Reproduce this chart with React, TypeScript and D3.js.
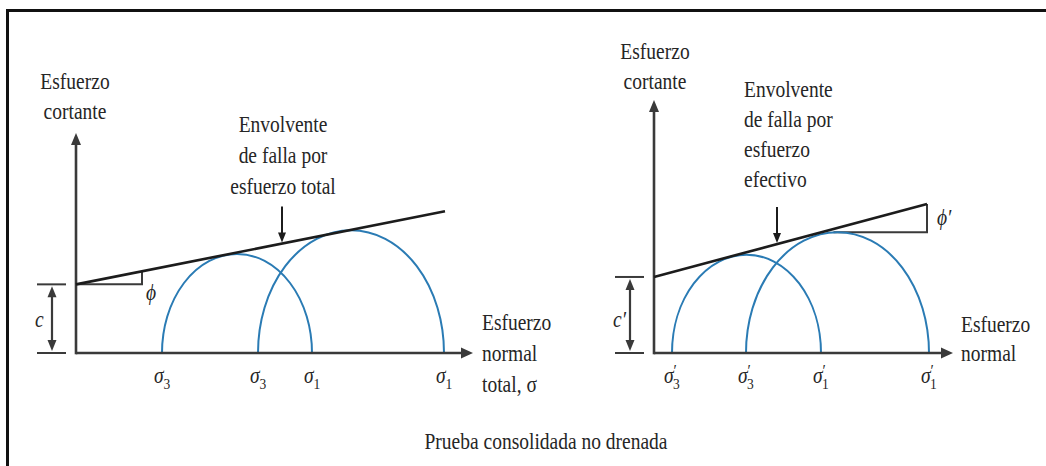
import React from "react";
import * as d3 from "d3";

// Mohr circles at failure, total stress (left) and effective stress (right)
const TOTAL_SIGMA3 = [86, 182];
const TOTAL_SIGMA1 = [236, 368];
const TOTAL_COHESION = 52;
const TOTAL_TAN_PHI = 0.15;
const TOTAL_ENVELOPE_END = 369;

const EFF_SIGMA3 = [18, 92];
const EFF_SIGMA1 = [167, 275];
const EFF_COHESION = 57.6;
const EFF_TAN_PHI = 0.2026;
const EFF_ENVELOPE_END = 273;

const TOTAL_ENVELOPE_LABEL = ["Envolvente", "de falla por", "esfuerzo total"];
const EFF_ENVELOPE_LABEL = ["Envolvente", "de falla por", "esfuerzo", "efectivo"];
const Y_TITLE = ["Esfuerzo", "cortante"];
const TOTAL_X_TITLE = ["Esfuerzo", "normal", "total, σ"];
const EFF_X_TITLE = ["Esfuerzo", "normal"];
const CAPTION = "Prueba consolidada no drenada";

const W = 1046;
const H = 466;
const BASE_Y = 353;
const FONT = "Liberation Serif, Times New Roman, Times, DejaVu Serif, serif";
const TEXT_COLOR = "#262626";
const AXIS_COLOR = "#3a3a3a";
const ARC_COLOR = "#2a7bb4";
const FS = 19.5;
const STRETCH = 1.15;

function T({ x, y, children, anchor = "start", size = FS, italic = false }: any) {
  return (
    <text
      transform={`translate(${x},${y}) scale(1,${STRETCH})`}
      textAnchor={anchor}
      style={{ fontFamily: FONT }}
      fontSize={size}
      fontStyle={italic ? "italic" : "normal"}
      fill={TEXT_COLOR}
    >
      {children}
    </text>
  );
}

// σ with a stacked prime and subscript, as one text element
function SigmaLabel({ x, y, sub, prime }: any) {
  return (
    <text
      transform={`translate(${x - 8},${y}) scale(1,${STRETCH})`}
      style={{ fontFamily: FONT }}
      fontSize={FS}
      fill={TEXT_COLOR}
    >
      <tspan fontStyle="italic">σ</tspan>
      {prime ? (
        <>
          <tspan fontSize={15} dy={-6}>
            ′
          </tspan>
          <tspan fontSize={13.5} dx={-4} dy={11}>
            {sub}
          </tspan>
        </>
      ) : (
        <tspan fontSize={13.5} dy={5}>
          {sub}
        </tspan>
      )}
    </text>
  );
}

function Panel({
  ox,
  xEnd,
  yTop,
  sigma3,
  sigma1,
  cohesion,
  tanPhi,
  envEnd,
  prime,
  arrowAt,
}: any) {
  const x = d3.scaleLinear().domain([0, 400]).range([ox, ox + 400]);
  const y = d3.scaleLinear().domain([0, 200]).range([BASE_Y, BASE_Y - 264]);
  const env = (s: number) => cohesion + tanPhi * s;
  const envLine = d3
    .line<number>()
    .x((s) => x(s))
    .y((s) => y(env(s)));

  const x0 = x(0);
  const y0 = y(0);
  const xt = x(xEnd);
  const yt = y(yTop);

  const arcs = sigma3.map((s3: number, i: number) => {
    const s1 = sigma1[i];
    const r = (s1 - s3) / 2;
    const rx = x(s1) - x(s1 - r);
    const ry = y(0) - y(r);
    return `M${x(s3)},${y0} A${rx},${ry} 0 0 1 ${x(s1)},${y0}`;
  });

  const cy = y(cohesion);
  const dimX = x0 - 24;
  const ax = x(arrowAt);
  const ay = y(env(arrowAt));

  return (
    <g>
      {/* Mohr circles */}
      {arcs.map((d: string, i: number) => (
        <path key={i} d={d} fill="none" stroke={ARC_COLOR} strokeWidth={2} />
      ))}
      {/* axes */}
      <line x1={x0} y1={y0} x2={xt - 9} y2={y0} stroke={AXIS_COLOR} strokeWidth={2.6} />
      <polygon points={`${xt},${y0} ${xt - 12},${y0 - 5.5} ${xt - 12},${y0 + 5.5}`} fill={AXIS_COLOR} />
      <line x1={x0} y1={y0 + 1.3} x2={x0} y2={yt + 9} stroke={AXIS_COLOR} strokeWidth={2.6} />
      <polygon points={`${x0},${yt} ${x0 - 5},${yt + 12} ${x0 + 5},${yt + 12}`} fill={AXIS_COLOR} />
      {/* failure envelope */}
      <path d={envLine([0, envEnd]) as string} fill="none" stroke="#1c1c1c" strokeWidth={2.6} />
      {/* cohesion dimension */}
      <line x1={x0 - 39} y1={cy} x2={x0 - 10} y2={cy} stroke={AXIS_COLOR} strokeWidth={2} />
      <line x1={x0 - 39} y1={y0} x2={x0 - 10} y2={y0} stroke={AXIS_COLOR} strokeWidth={2} />
      <line x1={dimX} y1={cy + 8} x2={dimX} y2={y0 - 8} stroke={AXIS_COLOR} strokeWidth={2.2} />
      <polygon points={`${dimX},${cy + 2} ${dimX - 4.5},${cy + 13} ${dimX + 4.5},${cy + 13}`} fill={AXIS_COLOR} />
      <polygon points={`${dimX},${y0 - 2} ${dimX - 4.5},${y0 - 13} ${dimX + 4.5},${y0 - 13}`} fill={AXIS_COLOR} />
      <T x={x0 - 41} y={327} italic>
        {prime ? "c′" : "c"}
      </T>
      {/* pointer to envelope */}
      <line x1={ax} y1={ay - 37} x2={ax} y2={ay - 8} stroke="#1c1c1c" strokeWidth={2} />
      <polygon points={`${ax},${ay - 1} ${ax - 4},${ay - 11} ${ax + 4},${ay - 11}`} fill="#1c1c1c" />
      {/* stress labels */}
      {sigma3.map((s: number, i: number) => (
        <SigmaLabel key={"s3" + i} x={x(s)} y={383} sub="3" prime={prime} />
      ))}
      {sigma1.map((s: number, i: number) => (
        <SigmaLabel key={"s1" + i} x={x(s)} y={383} sub="1" prime={prime} />
      ))}
    </g>
  );
}

export default function App() {
  // friction angle construction lines
  const xl = d3.scaleLinear().domain([0, 400]).range([76, 476]);
  const xr = d3.scaleLinear().domain([0, 400]).range([654, 1054]);
  const y = d3.scaleLinear().domain([0, 200]).range([BASE_Y, BASE_Y - 264]);

  const phiRun = 66;
  const lPhi = [
    [xl(0), y(TOTAL_COHESION)],
    [xl(phiRun), y(TOTAL_COHESION)],
    [xl(phiRun), y(TOTAL_COHESION + TOTAL_TAN_PHI * phiRun)],
  ];
  const rTop = EFF_COHESION + EFF_TAN_PHI * EFF_ENVELOPE_END;
  const r2 = (EFF_SIGMA1[1] - EFF_SIGMA3[1]) / 2;
  const rPhi = [
    [xr(EFF_ENVELOPE_END), y(rTop)],
    [xr(EFF_ENVELOPE_END), y(r2)],
    [xr(EFF_SIGMA3[1] + r2 - 4), y(r2)],
  ];
  const pl = d3.line();

  return (
    <svg
      width={W}
      height={H}
      viewBox={`0 0 ${W} ${H}`}
      style={{ position: "absolute", left: 0, top: 0, background: "#fff" }}
    >
      <rect x={0} y={0} width={W} height={H} fill="#fff" />
      <rect x={7.5} y={10.5} width={1070} height={480} fill="none" stroke="#111" strokeWidth={3} />

      <path d={pl(lPhi as any) as string} fill="none" stroke={AXIS_COLOR} strokeWidth={2} />
      <path d={pl(rPhi as any) as string} fill="none" stroke={AXIS_COLOR} strokeWidth={2} />
      <T x={146} y={300} italic>
        ϕ
      </T>
      <T x={937} y={225} italic>
        ϕ′
      </T>

      <Panel
        ox={76}
        xEnd={397}
        yTop={166.7}
        sigma3={TOTAL_SIGMA3}
        sigma1={TOTAL_SIGMA1}
        cohesion={TOTAL_COHESION}
        tanPhi={TOTAL_TAN_PHI}
        envEnd={TOTAL_ENVELOPE_END}
        prime={false}
        arrowAt={206}
      />
      <Panel
        ox={654}
        xEnd={299}
        yTop={191.7}
        sigma3={EFF_SIGMA3}
        sigma1={EFF_SIGMA1}
        cohesion={EFF_COHESION}
        tanPhi={EFF_TAN_PHI}
        envEnd={EFF_ENVELOPE_END}
        prime={true}
        arrowAt={123}
      />

      {Y_TITLE.map((t, i) => (
        <T key={"yl" + i} x={75} y={89 + i * 30} anchor="middle">
          {t}
        </T>
      ))}
      {Y_TITLE.map((t, i) => (
        <T key={"yr" + i} x={655} y={59 + i * 30} anchor="middle">
          {t}
        </T>
      ))}
      {TOTAL_ENVELOPE_LABEL.map((t, i) => (
        <T key={"el" + i} x={283} y={132 + i * 31} anchor="middle">
          {t}
        </T>
      ))}
      {EFF_ENVELOPE_LABEL.map((t, i) => (
        <T key={"er" + i} x={744} y={97 + i * 30}>
          {t}
        </T>
      ))}
      {TOTAL_X_TITLE.map((t, i) => (
        <T key={"xl" + i} x={482} y={330 + i * 31}>
          {t}
        </T>
      ))}
      {EFF_X_TITLE.map((t, i) => (
        <T key={"xr" + i} x={961} y={332 + i * 29}>
          {t}
        </T>
      ))}
      <T x={546} y={449} anchor="middle">
        {CAPTION}
      </T>
    </svg>
  );
}
